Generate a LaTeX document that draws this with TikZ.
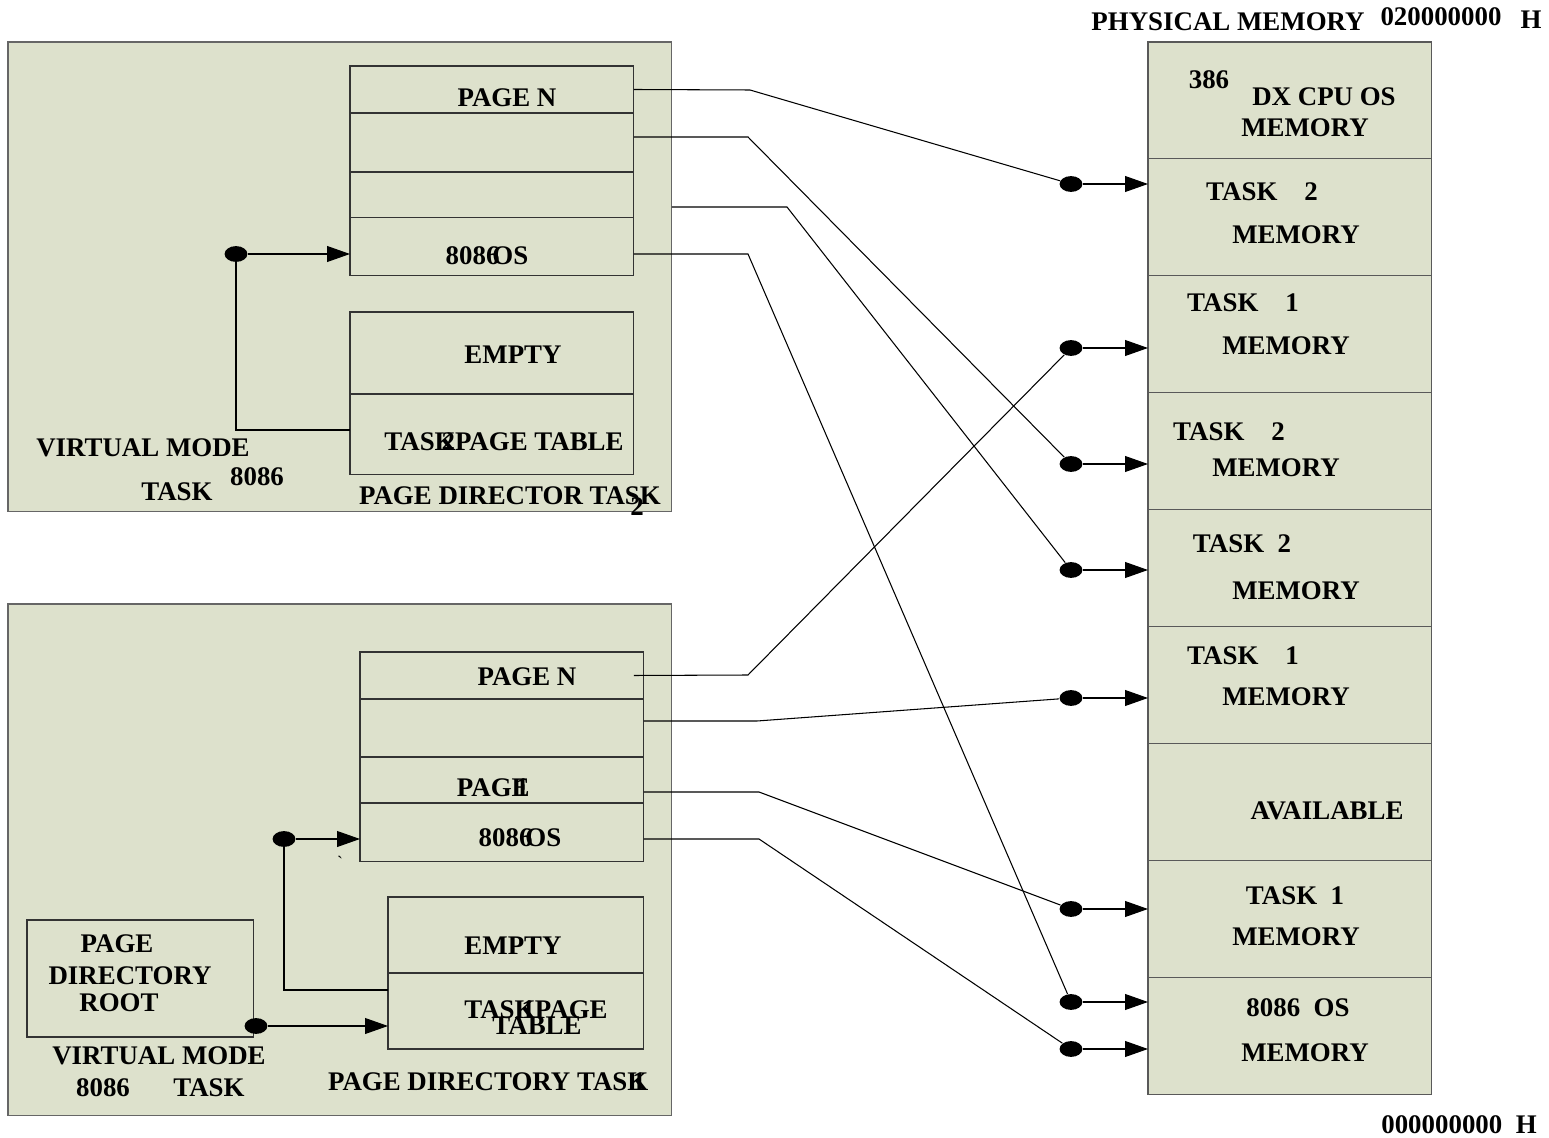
\documentclass[tikz,border=0pt]{standalone}
\usepackage{fontspec}
\setmainfont{Liberation Serif}
\usetikzlibrary{arrows.meta, positioning, shapes.geometric}
\definecolor{panelbg}{RGB}{221,225,204}

\begin{document}
\begin{tikzpicture}[
    x = 0.02cm, y = -0.02cm,
    line width = 0.6pt,
    panel/.style = {rectangle, draw=black!60, fill=panelbg, inner sep=0pt, outer sep=0pt, anchor=north west},
    cell/.style = {rectangle, draw=black!80, fill=panelbg, inner sep=0pt, outer sep=0pt, minimum width=5.68cm},
    memcell/.style = {cell, draw=black!65, minimum height=2.34cm},
    dot/.style = {ellipse, fill=black, inner sep=0pt, minimum width=13pt, minimum height=9pt},
    pil/.style = {black, -{Triangle[length=13pt, width=9pt]}},
    txt/.style = {inner sep=0pt},
    font = \bfseries\fontsize{15.3}{16}\selectfont
    ]

  \useasboundingbox (0,0) rectangle (1549,1138);

  % the two tasks
  \node[panel, minimum width=13.28cm, minimum height=9.4cm] (top) at (8,42) {};
  \node[panel, minimum width=13.28cm, minimum height=10.24cm] (bot) at (8,604) {};

  % page table, task 2
  \node[cell, minimum height=0.94cm, anchor=north west] (pa1) at (350,66) {};
  \node[cell, minimum height=1.18cm, below=0pt of pa1] (pa2) {};
  \node[cell, minimum height=0.92cm, below=0pt of pa2] (pa3) {};
  \node[cell, minimum height=1.16cm, below=0pt of pa3] (pa4) {};
  % page directory, task 2
  \node[cell, minimum height=1.64cm, anchor=north west] (ta1) at (350,312) {};
  \node[cell, minimum height=1.62cm, below=0pt of ta1] (ta2) {};

  % page table, task 1
  \node[cell, minimum height=0.94cm, anchor=north west] (pb1) at (360,652) {};
  \node[cell, minimum height=1.16cm, below=0pt of pb1] (pb2) {};
  \node[cell, minimum height=0.92cm, below=0pt of pb2] (pb3) {};
  \node[cell, minimum height=1.18cm, below=0pt of pb3] (pb4) {};
  % page directory, task 1
  \node[cell, minimum width=5.12cm, minimum height=1.52cm, anchor=north west] (tb1) at (388,897) {};
  \node[cell, minimum width=5.12cm, minimum height=1.52cm, below=0pt of tb1] (tb2) {};
  \node[cell, minimum width=4.54cm, minimum height=2.34cm, anchor=north west] (root) at (27,920) {};

  % physical memory
  \node[memcell, anchor=north west] (m1) at (1148,42) {};
  \node[memcell, below=0pt of m1] (m2) {};
  \node[memcell, below=0pt of m2] (m3) {};
  \node[memcell, below=0pt of m3] (m4) {};
  \node[memcell, below=0pt of m4] (m5) {};
  \node[memcell, below=0pt of m5] (m6) {};
  \node[memcell, below=0pt of m6] (m7) {};
  \node[memcell, below=0pt of m7] (m8) {};
  \node[memcell, below=0pt of m8] (m9) {};

  % texts, task 2
  \node[txt] (tA1) at (507,98) {PAGE N};
  \node[txt] (tA2) at (487,256) {8086\kern-4pt OS};
  \node[txt] (tA3) at (513,355) {EMPTY};
  \node[txt] (tA4) at (504,442) {TASK\kern-8pt 2PAGE TABLE};
  \node[txt] (tA5) at (143,448) {VIRTUAL MODE};
  \node[txt] (tA6) at (257,477) {8086};
  \node[txt] (tA7) at (177,492) {TASK};
  \node[txt] (tA8) at (510,496) {PAGE DIRECTOR TASK};
  \node[txt] (tA9) at (637,507) {2};

  % texts, task 1
  \node[txt] (tB1) at (527,677) {PAGE N};
  \node[txt] (tB2) at (493,788) {PAGE\kern-8pt 1};
  \node[txt] (tB3) at (520,838) {8086\kern-4pt OS};
  \node[txt, font=\normalfont] (tB4) at (340,862) {\textasciigrave};
  \node[txt] (tB5) at (513,946) {EMPTY};
  \node[txt] (tB6) at (536,1010) {TASK\kern-8pt 1PAGE};
  \node[txt] (tB7) at (537,1026) {TABLE};
  \node[txt] (tB8) at (117,944) {PAGE};
  \node[txt] (tB9) at (130,976) {DIRECTORY};
  \node[txt] (tB10) at (119,1003) {ROOT};
  \node[txt] (tB11) at (159,1056) {VIRTUAL MODE};
  \node[txt] (tB12) at (103,1088) {8086};
  \node[txt] (tB13) at (209,1088) {TASK};
  \node[txt] (tB14) at (487,1082) {PAGE DIRECTORY TASK\kern-9pt 1};

  % texts, memory
  \node[txt] (tM0) at (1228,22) {PHYSICAL MEMORY};
  \node[txt] (tM1) at (1441,17) {020000000};
  \node[txt] (tM2) at (1531,20) {H};
  \node[txt] (tM3) at (1459,1125) {000000000\ \ H};
  \node[txt] (tC1) at (1209,80) {386};
  \node[txt] (tC2) at (1324,97) {DX CPU OS};
  \node[txt] (tC3) at (1305,128) {MEMORY};
  \node[txt] (tC4) at (1262,192) {TASK\quad 2};
  \node[txt] (tC5) at (1296,235) {MEMORY};
  \node[txt] (tC6) at (1243,303) {TASK\quad 1};
  \node[txt] (tC7) at (1286,346) {MEMORY};
  \node[txt] (tC8) at (1229,432) {TASK\quad 2};
  \node[txt] (tC9) at (1276,468) {MEMORY};
  \node[txt] (tC10) at (1242,544) {TASK\enspace 2};
  \node[txt] (tC11) at (1296,591) {MEMORY};
  \node[txt] (tC12) at (1243,656) {TASK\quad 1};
  \node[txt] (tC13) at (1286,697) {MEMORY};
  \node[txt] (tC14) at (1327,811) {AVAILABLE};
  \node[txt] (tC15) at (1295,896) {TASK\enspace 1};
  \node[txt] (tC16) at (1296,937) {MEMORY};
  \node[txt] (tC17) at (1298,1008) {8086\enspace OS};
  \node[txt] (tC18) at (1305,1053) {MEMORY};

  % dots
  \node[dot] (d0) at (236,254) {};
  \node[dot] (d9) at (284,839) {};
  \node[dot] (d10) at (256,1026) {};
  \node[dot] (d1) at (1071,184) {};
  \node[dot] (d2) at (1071,464) {};
  \node[dot] (d3) at (1071,570) {};
  \node[dot] (d4) at (1071,1002) {};
  \node[dot] (d5) at (1071,348) {};
  \node[dot] (d6) at (1071,698) {};
  \node[dot] (d7) at (1071,909) {};
  \node[dot] (d8) at (1071,1049) {};

  % bends
  \coordinate (k1) at (750,90);
  \coordinate (k2) at (748,137);
  \coordinate (k3) at (787,207);
  \coordinate (k4) at (748,254);
  \coordinate (k5) at (748,675);
  \coordinate (k6) at (757,721);
  \coordinate (k7) at (759,792);
  \coordinate (k8) at (759,839);

  % inside the tasks
  \draw[pil] (d0) -- (d0 -| pa4.west);
  \draw (d0) |- ([yshift=0.09cm]ta2.west);
  \draw[pil] (d9) -- (d9 -| pb4.west);
  \draw (d9) |- ([yshift=0.42cm]tb2.west);
  \draw[pil] (d10) -- (d10 -| tb2.west);

  % pages to memory
  \draw (pa1.east) -- (k1) -- (d1);
  \draw (pa2.east |- k2) -- (k2) -- (d2);
  \draw (top.east |- k3) -- (k3) -- (d3);
  \draw (pa4.east |- k4) -- (k4) -- (d4);
  \draw ([xshift=-0.2cm]pb1.east) -- (k5) -- (d5);
  \draw (pb2.east |- k6) -- (k6) -- (d6);
  \draw (pb3.east |- k7) -- (k7) -- (d7);
  \draw (pb4.east |- k8) -- (k8) -- (d8);

  \draw[pil]
  (d1) edge (d1 -| m2.west)
  (d5) edge (d5 -| m3.west)
  (d2) edge (d2 -| m4.west)
  (d3) edge (d3 -| m5.west)
  (d6) edge (d6 -| m6.west)
  (d7) edge (d7 -| m8.west)
  (d4) edge (d4 -| m9.west)
  (d8) edge (d8 -| m9.west) ;
\end{tikzpicture}
\end{document}
